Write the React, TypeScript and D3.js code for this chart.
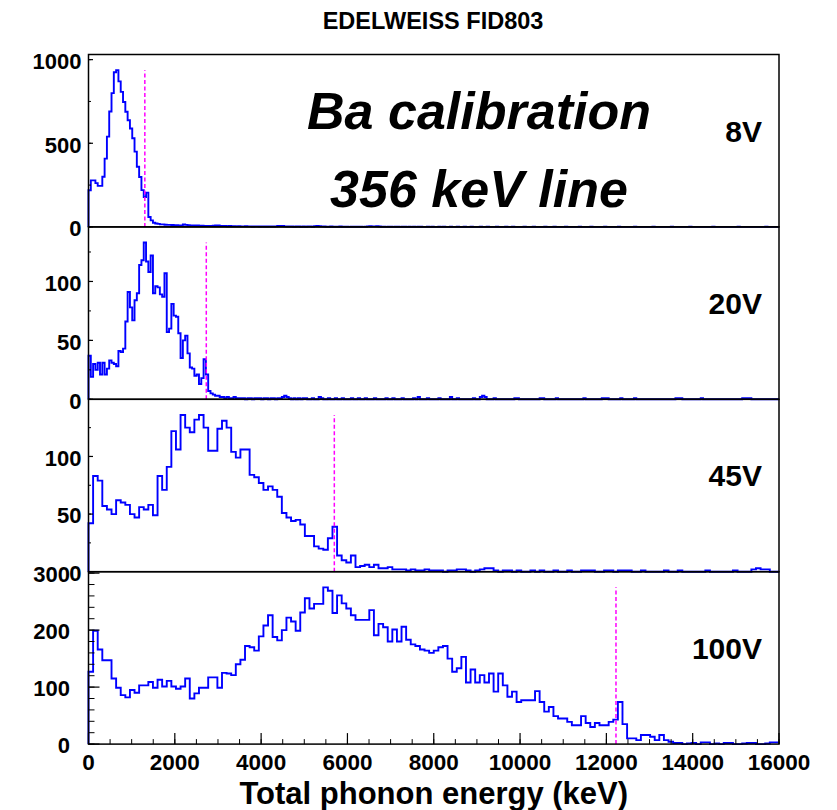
import React from "react";
import * as d3 from "d3";

// ---------- data ----------
const TITLE = "EDELWEISS FID803";
const X_LABEL = "Total phonon energy (keV)";
const NOTE_LINES = ["Ba calibration", "356 keV line"];
const X_DOMAIN: [number, number] = [0, 16000];
const X_MAJOR = 2000;
const X_MINOR = 500;
const LINE_KEV = 356; // recoil energy of the Ba line
const EPS_GE = 3; // eV per pair (Luke boost factor 1 + V/3)
const VOLTAGES = [8, 20, 45, 100];
const VOLT_LABELS = ["8V", "20V", "45V", "100V"];
const BIN_COUNTS = [300, 300, 150, 150];
const Y_MAJOR = [500, 50, 50, 100];
const Y_MINOR = [250, 25, 25, 20];

const hist8V = [
  219, 278, 278, 262, 245, 245, 300, 408, 540, 690, 800, 925, 937, 870, 807, 747, 688, 638, 588, 530,
  450, 360, 298, 220, 178, 205, 59, 39, 25, 20, 18, 15, 15, 13, 12, 12, 11, 10, 10, 9, 9,
  14, 12, 10, 9, 9, 8, 8, 7, 7, 6, 6, 6, 5, 7, 9, 8, 6, 5, 5, 4,
  6, 4, 4, 3, 4, 3, 3, 4, 3, 3, 2, 3, 3, 2, 3, 2, 2, 3, 2, 2,
  3, 5, 6, 5, 3, 2, 2, 2, 1, 2, 2, 1, 2, 1, 2, 2, 1, 4, 5, 4,
  3, 2, 1, 1, 2, 1, 1, 1, 2, 1, 1, 1, 0, 1, 1, 1, 1, 1, 0, 1,
  3, 4, 3, 3, 4, 2, 1, 1, 0, 1, 1, 0, 1, 1, 0, 1, 1, 0, 1, 0,
  1, 0, 1, 1, 0, 0, 1, 0, 1, 0, 0, 1, 0, 1, 0, 0, 1, 0, 0, 1,
  0, 0, 1, 0, 0, 1, 0, 0, 0, 1, 0, 0, 1, 0, 0, 0, 1, 0, 0, 0,
  1, 0, 0, 1, 0, 0, 0, 0, 1, 0, 0, 0, 1, 0, 0, 0, 0, 1, 0, 0,
  0, 1, 0, 0, 0, 0, 1, 0, 0, 0, 0, 0, 1, 0, 0, 0, 0, 1, 0, 0,
  0, 0, 0, 1, 0, 0, 0, 0, 0, 1, 0, 0, 0, 0, 0, 0, 1, 0, 0, 0,
  0, 0, 0, 0, 1, 0, 0, 0, 0, 0, 0, 0, 1, 0, 0, 0, 0, 0, 0, 0,
  1, 0, 0, 0, 0, 0, 0, 0, 0, 0, 1, 0, 0, 0, 0, 0, 0, 0, 0, 0,
  0, 1, 0, 0, 0, 0, 0, 0, 0, 0, 0, 0, 0, 1, 0, 0, 0, 0, 0,
];

const hist20V = [
  37, 19, 30, 25, 31, 21, 31, 21, 26, 33, 31, 30, 28, 41, 40, 43, 66, 91, 78, 67,
  84, 90, 114, 118, 133, 117, 108, 122, 90, 96, 95, 89, 87, 107, 57, 60, 81, 71, 70, 56,
  35, 50, 54, 39, 27, 26, 20, 21, 13, 18, 34, 21, 7, 5, 4, 3, 3, 2, 2, 1,
  2, 1, 1, 2, 1, 1, 1, 1, 0, 1, 1, 0, 1, 1, 1, 0, 1, 1, 0, 1,
  1, 0, 1, 1, 2, 3, 2, 1, 0, 1, 0, 1, 0, 1, 1, 0, 0, 1, 0, 0,
  2, 1, 0, 0, 1, 0, 0, 1, 0, 0, 1, 0, 0, 0, 1, 0, 0, 1, 0, 0,
  1, 0, 0, 0, 1, 0, 0, 0, 0, 1, 0, 0, 1, 0, 0, 0, 1, 0, 0, 0,
  0, 1, 0, 2, 0, 0, 0, 1, 0, 0, 0, 0, 1, 0, 0, 0, 0, 2, 0, 0,
  1, 0, 0, 0, 0, 0, 0, 1, 0, 0, 2, 3, 2, 0, 0, 0, 1, 0, 0, 0,
  0, 0, 0, 0, 0, 1, 1, 0, 0, 0, 0, 0, 0, 0, 0, 0, 1, 1, 0, 0,
  0, 0, 0, 1, 0, 0, 0, 0, 0, 0, 0, 0, 0, 0, 0, 1, 0, 0, 0, 0,
  0, 0, 0, 1, 1, 1, 0, 0, 0, 0, 0, 1, 0, 0, 0, 0, 0, 1, 0, 0,
  0, 0, 0, 0, 0, 0, 0, 0, 0, 0, 0, 0, 0, 0, 0, 1, 1, 1, 0, 0,
  0, 0, 0, 0, 0, 0, 1, 0, 0, 0, 0, 0, 0, 0, 0, 0, 0, 0, 0, 0,
  0, 0, 0, 0, 1, 1, 1, 1, 0, 0, 0, 0, 0, 0, 0, 0, 0, 0, 0, 0,
];

const hist45V = [
  42, 83, 79, 57, 54, 50, 62, 60, 58, 50, 47, 56, 54, 58, 49, 83, 71, 91, 122, 106,
  136, 125, 121, 132, 136, 125, 105, 105, 124, 131, 125, 104, 99, 106, 106, 84, 82, 77, 71, 74,
  71, 65, 51, 47, 44, 45, 41, 31, 31, 22, 20, 19, 29, 39, 14, 10, 8, 14, 4, 5,
  6, 4, 6, 3, 3, 4, 2, 2, 2, 1, 2, 1, 1, 2, 1, 1, 1, 0, 1, 1,
  2, 2, 1, 0, 1, 2, 3, 3, 1, 0, 1, 1, 0, 1, 0, 0, 1, 0, 1, 0,
  0, 1, 0, 0, 1, 0, 0, 1, 1, 1, 0, 0, 1, 1, 0, 1, 1, 1, 0, 0,
  1, 0, 0, 0, 0, 1, 0, 0, 1, 0, 0, 0, 0, 0, 1, 0, 0, 0, 0, 0,
  1, 0, 0, 0, 2, 3, 2, 2, 0, 0,
];

const hist100V = [
  127, 199, 166, 147, 147, 115, 99, 86, 82, 95, 90, 103, 103, 109, 99, 113, 101, 111, 101, 97,
  101, 115, 80, 89, 99, 99, 117, 117, 99, 125, 124, 121, 140, 148, 172, 170, 164, 189, 208, 226,
  188, 182, 200, 222, 215, 199, 231, 256, 238, 246, 246, 275, 269, 230, 261, 247, 238, 226, 218, 218,
  218, 235, 191, 211, 205, 180, 201, 180, 206, 183, 175, 172, 166, 164, 160, 164, 170, 172, 150, 127,
  133, 153, 108, 131, 108, 121, 108, 124, 92, 124, 103, 83, 92, 74, 77, 77, 77, 93, 74, 57,
  65, 49, 45, 45, 39, 33, 33, 49, 37, 30, 37, 33, 33, 39, 43, 74, 35, 10, 10, 7,
  16, 16, 13, 7, 16, 7, 4, 2, 2, 0, 1, 2, 0, 3, 3, 0, 1, 0, 2, 2,
  0, 0, 1, 2, 2, 0, 0, 1, 3, 3,
];

const SERIES = [hist8V, hist20V, hist45V, hist100V];

// ---------- layout ----------
const W = 837;
const H = 810;
const LEFT = 88.5;
const RIGHT = 779;
const TOP = 54.5;
const PANEL_H = 172.4;
const FONT = "'Liberation Sans', Arial, Helvetica, sans-serif";
const BLUE = "#0000ff";
const MAGENTA = "#ff00ff";

function Panel({ index }: { index: number }) {
  const values = SERIES[index];
  const nb = BIN_COUNTS[index];
  const bw = (X_DOMAIN[1] - X_DOMAIN[0]) / nb;
  const top = TOP + index * PANEL_H;
  const bottom = top + PANEL_H;
  const isBottom = index === SERIES.length - 1;
  const vmax = d3.max(values) as number;
  const x = d3.scaleLinear().domain(X_DOMAIN).range([LEFT, RIGHT]);
  const y = d3.scaleLinear().domain([0, vmax * 1.1]).range([bottom, top]);

  const pts: [number, number][] = [[0, 0]];
  values.forEach((v, i) => {
    pts.push([i * bw, v]);
    pts.push([(i + 1) * bw, v]);
  });
  pts.push([X_DOMAIN[1], 0]);
  const line = d3
    .line<[number, number]>()
    .x((d) => x(d[0]))
    .y((d) => y(d[1]));

  const eLine = LINE_KEV * (1 + VOLTAGES[index] / EPS_GE);

  const minorTicks = d3.range(0, vmax * 1.1 + 1e-6, Y_MINOR[index]);
  const majorTicks = d3.range(0, vmax * 1.1 + 1e-6, Y_MAJOR[index]);
  const majLen = isBottom ? 11 : 4.5;
  const minLen = isBottom ? 6 : 2.5;
  const labelX = isBottom ? 70 : 81.5;

  return (
    <g>
      <path d={line(pts) || ""} fill="none" stroke={BLUE} strokeWidth={1.9} />
      <line
        x1={x(eLine)}
        x2={x(eLine)}
        y1={y(0)}
        y2={y(vmax)}
        stroke={MAGENTA}
        strokeWidth={1.5}
        strokeDasharray="4,2.5"
      />
      {minorTicks.map((t) => (
        <line key={"mi" + t} x1={LEFT} x2={LEFT + minLen} y1={y(t)} y2={y(t)} stroke="#000" strokeWidth={1} />
      ))}
      {majorTicks.map((t) => (
        <line key={"ma" + t} x1={LEFT} x2={LEFT + majLen} y1={y(t)} y2={y(t)} stroke="#000" strokeWidth={1.2} />
      ))}
      {majorTicks.map((t) => (
        <text
          key={"lb" + t}
          x={labelX}
          y={y(t)}
          dy="0.42em"
          textAnchor="end"
          fontFamily={FONT}
          fontWeight="bold"
          fontSize={22}
        >
          {t}
        </text>
      ))}
      <rect x={LEFT} y={top} width={RIGHT - LEFT} height={PANEL_H} fill="none" stroke="#000" strokeWidth={1.5} />
      <text
        x={762}
        y={top + 87}
        textAnchor="end"
        fontFamily={FONT}
        fontWeight="bold"
        fontSize={30}
      >
        {VOLT_LABELS[index]}
      </text>
    </g>
  );
}

export default function App() {
  const x = d3.scaleLinear().domain(X_DOMAIN).range([LEFT, RIGHT]);
  const axisY = TOP + SERIES.length * PANEL_H;
  const xMinor = d3.range(X_DOMAIN[0], X_DOMAIN[1] + 1, X_MINOR);
  const xMajor = d3.range(X_DOMAIN[0], X_DOMAIN[1] + 1, X_MAJOR);
  return (
    <svg
      width={W}
      height={H}
      viewBox={`0 0 ${W} ${H}`}
      style={{ position: "absolute", left: 0, top: 0, background: "#fff" }}
    >
      <rect x={0} y={0} width={W} height={H} fill="#fff" />
      <text x={433} y={29} textAnchor="middle" fontFamily={FONT} fontWeight="bold" fontSize={23.5}>
        {TITLE}
      </text>
      {SERIES.map((_, i) => (
        <Panel key={i} index={i} />
      ))}
      {xMinor.map((t) => (
        <line key={"xm" + t} x1={x(t)} x2={x(t)} y1={axisY} y2={axisY - 5} stroke="#000" strokeWidth={1} />
      ))}
      {xMajor.map((t) => (
        <line key={"xM" + t} x1={x(t)} x2={x(t)} y1={axisY} y2={axisY - 11} stroke="#000" strokeWidth={1.2} />
      ))}
      {xMajor.map((t) => (
        <text
          key={"xl" + t}
          x={x(t)}
          y={axisY + 26}
          textAnchor="middle"
          fontFamily={FONT}
          fontWeight="bold"
          fontSize={22.5}
        >
          {t}
        </text>
      ))}
      <text
        x={(LEFT + RIGHT) / 2}
        y={804}
        textAnchor="middle"
        fontFamily={FONT}
        fontWeight="bold"
        fontSize={31}
      >
        {X_LABEL}
      </text>
      {NOTE_LINES.map((s, i) => (
        <text
          key={s}
          x={479}
          y={129 + i * 78}
          textAnchor="middle"
          fontFamily={FONT}
          fontWeight="bold"
          fontStyle="italic"
          fontSize={52}
        >
          {s}
        </text>
      ))}
    </svg>
  );
}
